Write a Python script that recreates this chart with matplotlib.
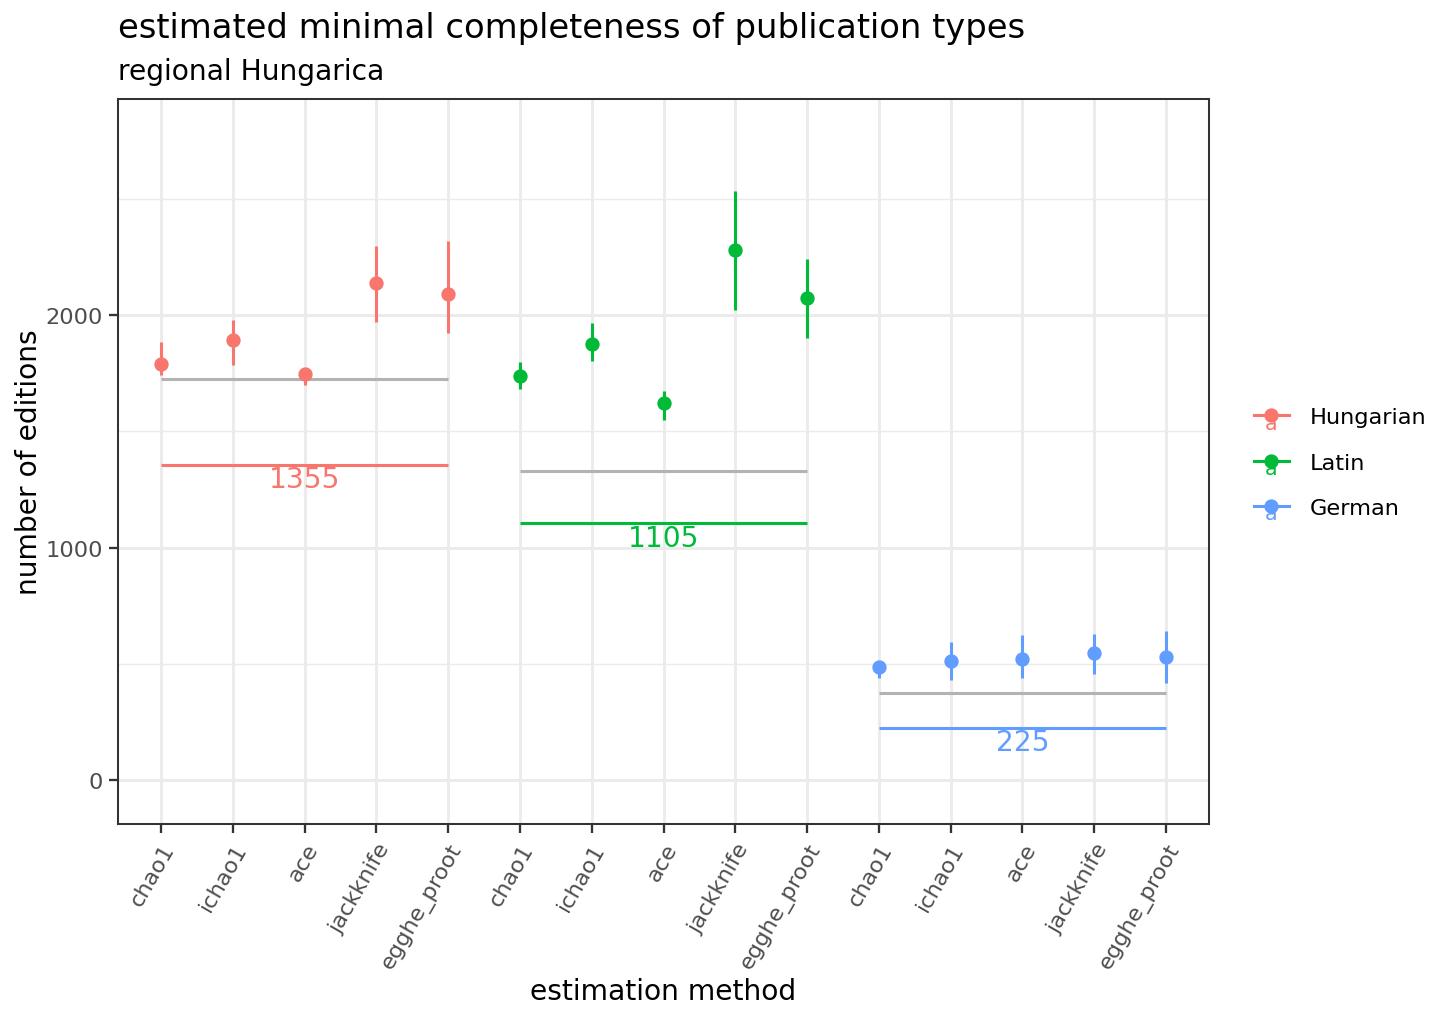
import numpy as np
import matplotlib
matplotlib.use('Agg')
import matplotlib.pyplot as plt
from matplotlib.lines import Line2D
from matplotlib.text import Text
from matplotlib.legend_handler import HandlerBase

methods = ['chao1', 'ichao1', 'ace', 'jackknife', 'egghe_proot']
languages = ['Hungarian', 'Latin', 'German']
colors = ['#F8766D', '#00BA38', '#619CFF']

hu_est = [1789, 1892, 1746, 2136, 2092]
hu_lo = [1742, 1786, 1699, 1971, 1921]
hu_hi = [1885, 1978, 1772, 2298, 2319]

la_est = [1736, 1877, 1620, 2280, 2073]
la_lo = [1682, 1802, 1550, 2023, 1902]
la_hi = [1800, 1966, 1674, 2533, 2240]

de_est = [485, 512, 520, 545, 530]
de_lo = [441, 431, 437, 456, 417]
de_hi = [513, 592, 624, 628, 641]

observed = [1725, 1327, 374]
counted = [1355, 1105, 225]

est = [hu_est, la_est, de_est]
lo = [hu_lo, la_lo, de_lo]
hi = [hu_hi, la_hi, de_hi]

plt.rcParams['font.family'] = 'DejaVu Sans'

W, H, DPI = 1456, 1019, 184
fig = plt.figure(figsize=(W / DPI, H / DPI), dpi=DPI)
ax = fig.add_axes([118 / W, (H - 825) / H, (1209 - 118) / W, (825 - 100) / H])

n = len(methods)
for g, lang in enumerate(languages):
    x = np.arange(1, n + 1) + g * n
    c = colors[g]
    ax.vlines(x, lo[g], hi[g], color=c, lw=1.2, zorder=3)
    ax.plot(x, est[g], 'o', color=c, ms=4.6, zorder=4, label=lang)
    ax.hlines(observed[g], x[0], x[-1], color='#B3B3B3', lw=1.2, zorder=2)
    ax.hlines(counted[g], x[0], x[-1], color=c, lw=1.2, zorder=2)
    ax.text(x[2], counted[g] - 2, str(counted[g]), color=c, ha='center', va='top',
            fontsize=11, zorder=5)

ticks = np.arange(1, 3 * n + 1)
ax.set_xticks(ticks)
ax.set_xticklabels(methods * 3, rotation=60, ha='right', va='top',
                   rotation_mode='anchor', fontsize=8.8, color='#4D4D4D')
ax.set_xlim(0.4, 3 * n + 0.6)
ax.set_ylim(-189, 2929)
ax.set_yticks([0, 1000, 2000])
ax.set_yticks([500, 1500, 2500], minor=True)
ax.tick_params(axis='y', which='minor', length=0)
ax.tick_params(axis='both', which='major', length=3.5, width=0.9, color='#333333',
               labelsize=8.8, labelcolor='#4D4D4D', pad=2.5)
ax.grid(which='major', color='#EBEBEB', lw=1.1, zorder=0)
ax.grid(which='minor', color='#EBEBEB', lw=0.55, zorder=0)
ax.set_axisbelow(True)
for s in ax.spines.values():
    s.set_color('#333333')
    s.set_linewidth(0.8)

ax.set_xlabel('estimation method', fontsize=11, labelpad=2)
ax.set_ylabel('number of editions', fontsize=11, labelpad=1)

fig.text(118 / W, 1 - 29 / H, 'estimated minimal completeness of publication types',
         fontsize=13.2, ha='left', va='center')
fig.text(118 / W, 1 - 72 / H, 'regional Hungarica', fontsize=11, ha='left', va='center')


class KeyHandler(HandlerBase):
    def create_artists(self, legend, orig_handle, xdescent, ydescent, width, height,
                       fontsize, trans):
        c = orig_handle.get_color()
        cx = width / 2 - xdescent
        cy = height / 2 - ydescent
        line = Line2D([-xdescent, width - xdescent], [cy, cy], color=c, lw=1.2,
                      transform=trans)
        pt = Line2D([cx], [cy], marker='o', ms=4.6, color=c, ls='none', transform=trans)
        txt = Text(cx, cy - 3, 'a', color=c, ha='center', va='center', fontsize=8,
                   transform=trans)
        return [line, pt, txt]


handles, labels = ax.get_legend_handles_labels()
leg = fig.legend(handles, labels, loc='center left',
                 bbox_to_anchor=(1254 / W, 1 - 463.5 / H),
                 bbox_transform=fig.transFigure, frameon=False, fontsize=8.8,
                 handlelength=1.55, handletextpad=0.95, labelspacing=1.12,
                 borderpad=0, borderaxespad=0,
                 handler_map={Line2D: KeyHandler()})

fig.savefig('out.png', dpi=DPI)
